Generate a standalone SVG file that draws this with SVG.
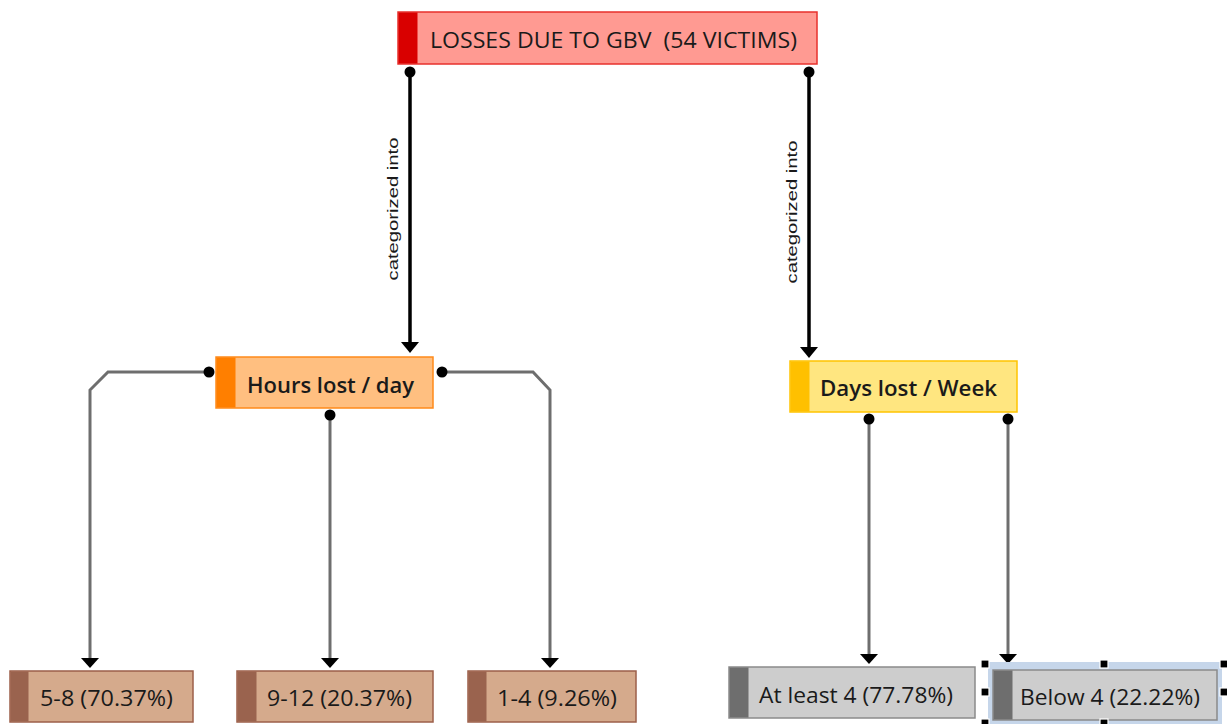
<svg xmlns="http://www.w3.org/2000/svg" width="1227" height="724" viewBox="0 0 1227 724">
<style>
text{font-family:"Open Sans","Noto Sans","DejaVu Sans",sans-serif;fill:#1a1a1a}
.t{font-size:22px}
.m{font-size:22px;font-weight:600}
.lbl{font-family:"Liberation Sans",Arial,sans-serif;font-size:14px;text-anchor:middle}
.c1{fill:none;stroke:#000;stroke-width:3.5}
.c2{fill:none;stroke:#6e6e6e;stroke-width:3}
.n0{fill:#ff9a92;stroke:#e8302c;stroke-width:1.5}
.b0{fill:#d90000}
.n1{fill:#ffbf80;stroke:#ff8a1a;stroke-width:1.5}
.b1{fill:#ff7f00}
.n2{fill:#ffe680;stroke:#ffc400;stroke-width:1.5}
.b2{fill:#ffc000}
.n3{fill:#d5aa8c;stroke:#9c5f4a;stroke-width:1.5}
.b3{fill:#9a634e}
.n4{fill:#cdcdcd;stroke:#8a8a8a;stroke-width:1.5}
.b4{fill:#6e6e6e}
.h{fill:#000;stroke:#fff;stroke-width:1.2}
</style>
<defs>
<marker id="dot" markerUnits="userSpaceOnUse" markerWidth="14" markerHeight="14" refX="7" refY="7" orient="auto"><circle cx="7" cy="7" r="5.5" fill="#000"/></marker>
<marker id="arr" markerUnits="userSpaceOnUse" markerWidth="14" markerHeight="22" refX="4" refY="11" orient="auto"><path d="M0,2 L11,11 L0,20 z" fill="#000"/></marker>
<marker id="arr2" markerUnits="userSpaceOnUse" markerWidth="14" markerHeight="22" refX="4" refY="11" orient="auto"><path d="M0,2 L10,11 L0,20 z" fill="#000"/></marker>
</defs>
<g id="connectors">
<path class="c1" d="M410,72 V346" marker-start="url(#dot)" marker-end="url(#arr)"/>
<path class="c1" d="M809,72 V351" marker-start="url(#dot)" marker-end="url(#arr)"/>
<text class="lbl" transform="translate(398,209) rotate(-90)" textLength="143" lengthAdjust="spacingAndGlyphs">categorized into</text>
<text class="lbl" transform="translate(797,212) rotate(-90)" textLength="143" lengthAdjust="spacingAndGlyphs">categorized into</text>
<path class="c2" d="M209,372 H108 L90,390 V662" marker-start="url(#dot)" marker-end="url(#arr2)"/>
<path class="c2" d="M330,415 V662" marker-start="url(#dot)" marker-end="url(#arr2)"/>
<path class="c2" d="M442,372 H533 L550,390 V662" marker-start="url(#dot)" marker-end="url(#arr2)"/>
<path class="c2" d="M869,419 V658" marker-start="url(#dot)" marker-end="url(#arr2)"/>
<path class="c2" d="M1008,419 V658" marker-start="url(#dot)" marker-end="url(#arr2)"/>
</g>
<g id="n-top">
<rect class="n0" x="398" y="12" width="419" height="52"/>
<rect class="b0" x="398.5" y="12.5" width="19" height="51"/>
<text class="t" x="430" y="48" textLength="367" lengthAdjust="spacingAndGlyphs" xml:space="preserve">LOSSES DUE TO GBV&#160; (54 VICTIMS)</text>
</g>
<g id="n-hours">
<rect class="n1" x="216" y="357" width="217" height="51"/>
<rect class="b1" x="216.5" y="357.5" width="19" height="50"/>
<text class="m" x="247" y="393" textLength="167" lengthAdjust="spacingAndGlyphs">Hours lost / day</text>
</g>
<g id="n-days">
<rect class="n2" x="790" y="361" width="227" height="51"/>
<rect class="b2" x="790.5" y="361.5" width="19" height="50"/>
<text class="m" x="820" y="396" textLength="177" lengthAdjust="spacingAndGlyphs">Days lost / Week</text>
</g>
<g id="n-58">
<rect class="n3" x="10" y="671" width="183" height="51"/>
<rect class="b3" x="10.5" y="671.5" width="18" height="50"/>
<text class="t" x="40" y="706" textLength="133" lengthAdjust="spacingAndGlyphs">5-8 (70.37%)</text>
</g>
<g id="n-912">
<rect class="n3" x="237" y="671" width="196" height="51"/>
<rect class="b3" x="237.5" y="671.5" width="19" height="50"/>
<text class="t" x="267" y="706" textLength="145" lengthAdjust="spacingAndGlyphs">9-12 (20.37%)</text>
</g>
<g id="n-14">
<rect class="n3" x="468" y="671" width="168" height="51"/>
<rect class="b3" x="468.5" y="671.5" width="18" height="50"/>
<text class="t" x="497" y="706" textLength="120" lengthAdjust="spacingAndGlyphs">1-4 (9.26%)</text>
</g>
<g id="n-atleast">
<rect class="n4" x="729" y="667" width="246" height="51"/>
<rect class="b4" x="729.5" y="667.5" width="19" height="50"/>
<text class="t" x="759" y="703" textLength="194" lengthAdjust="spacingAndGlyphs">At least 4 (77.78%)</text>
</g>
<g id="n-below">
<rect x="988" y="662" width="234" height="66" fill="#c6d6ea"/>
<rect class="n4" x="993" y="670" width="224" height="50"/>
<rect class="b4" x="993.5" y="670.5" width="19" height="49"/>
<text class="t" x="1020" y="705" textLength="180" lengthAdjust="spacingAndGlyphs">Below 4 (22.22%)</text>
<rect class="h" x="981" y="660" width="8" height="8"/>
<rect class="h" x="1100" y="660" width="8" height="8"/>
<rect class="h" x="1220" y="660" width="8" height="8"/>
<rect class="h" x="981" y="688" width="8" height="8"/>
<rect class="h" x="1220" y="688" width="8" height="8"/>
<rect class="h" x="981" y="719" width="8" height="8"/>
<rect class="h" x="1100" y="719" width="8" height="8"/>
</g>
</svg>
